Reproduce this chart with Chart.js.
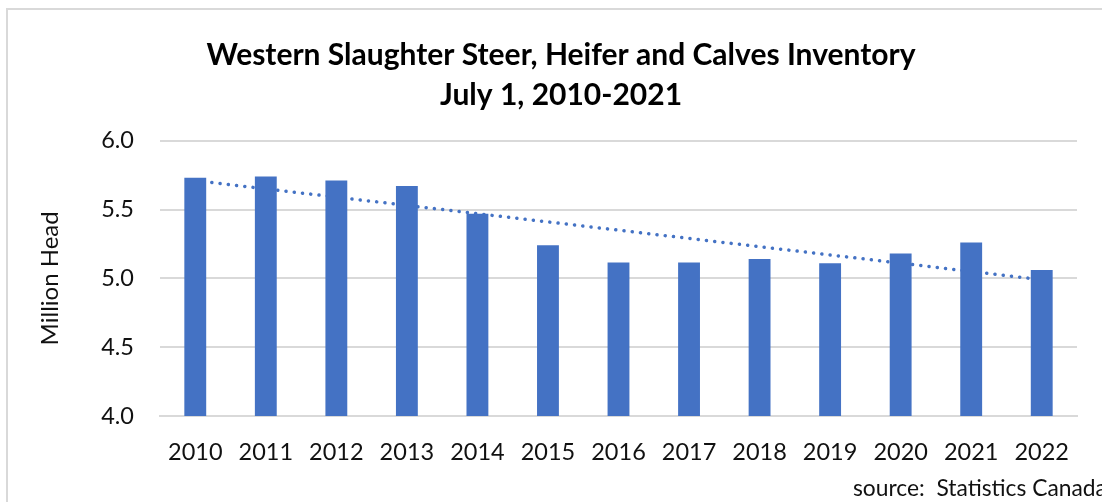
<!DOCTYPE html>
<html>
<head>
<meta charset="utf-8">
<script src="https://cdn.jsdelivr.net/npm/chart.js@4.4.0/dist/chart.umd.min.js"></script>
<style>
    html, body { margin: 0; padding: 0; background: #fff; overflow: hidden; width: 1102px; height: 502px; }
    .box {
        position: absolute; left: 6px; top: 8px; width: 1200px; height: 600px;
        border-left: 2px solid #d9d9d9; border-top: 2px solid #d9d9d9;
    }
    .wrap { position: absolute; left: 7px; top: 9px; }
    .source {
        position: absolute; left: 853px; top: 473px;
        font-family: Lato, sans-serif; font-size: 22.8px; color: #111; white-space: pre;
    }
</style>
</head>
<body>
<div class="box"></div>
<div class="wrap"><canvas id="myChart" width="1108" height="477"></canvas></div>
<div class="source">source:  Statistics Canada</div>
<script>
const years = ['2010', '2011', '2012', '2013', '2014', '2015', '2016', '2017', '2018', '2019', '2020', '2021', '2022'];
const inventory = [5.73, 5.74, 5.71, 5.67, 5.47, 5.24, 5.115, 5.115, 5.14, 5.11, 5.18, 5.26, 5.06];
// trend line ends, gaps joined with spanGaps
const trend = [5.71, null, null, null, null, null, null, null, null, null, null, null, 4.99];
const yTicks = [4.0, 4.5, 5.0, 5.5, 6.0];

const ctx = document.getElementById('myChart');
new Chart(ctx, {
    type: 'bar',
    data: {
        labels: years,
        datasets: [
            {
                type: 'bar',
                label: 'Inventory',
                data: inventory,
                backgroundColor: '#4472C4',
                barPercentage: 0.31,
                categoryPercentage: 1,
                order: 1
            },
            {
                type: 'line',
                label: 'Trend',
                data: trend,
                spanGaps: true,
                borderColor: '#4472C4',
                borderWidth: 3.5,
                borderDash: [0.1, 8.2],
                borderCapStyle: 'round',
                pointRadius: 0,
                fill: false,
                order: 2
            }
        ]
    },
    options: {
        responsive: false,
        animation: false,
        layout: {
            padding: 0
        },
        plugins: {
            legend: false,
            tooltip: { enabled: false },
            title: {
                display: true,
                text: ['Western Slaughter Steer, Heifer and Calves Inventory', 'July 1, 2010-2021'],
                color: '#000',
                font: { family: 'Lato', size: 30, weight: 'bold', lineHeight: '40px' },
                padding: { top: 26, bottom: 25.7 }
            }
        },
        scales: {
            x: {
                grid: { display: false },
                border: { color: '#d9d9d9', width: 2 },
                ticks: {
                    color: '#111',
                    font: { family: 'Lato', size: 23.5 },
                    padding: 14,
                    maxRotation: 0
                },
                afterFit: (scale) => { scale.height = 70; }
            },
            y: {
                min: 4,
                max: 6,
                afterBuildTicks: (scale) => { scale.ticks = yTicks.map(v => ({ value: v })); },
                grid: { color: '#d9d9d9', lineWidth: 2, drawTicks: false },
                border: { display: false },
                ticks: {
                    color: '#111',
                    font: { family: 'Lato', size: 23.5 },
                    padding: 26,
                    callback: (v) => Number(v).toFixed(1)
                },
                title: {
                    display: true,
                    text: 'Million Head',
                    color: '#111',
                    font: { family: 'Lato', size: 24 },
                    padding: { top: 28.5, bottom: 0 }
                },
                afterFit: (scale) => { scale.width = 153; }
            },
            // empty right axis, only keeps room on the right of the plot
            yRight: {
                position: 'right',
                min: 4,
                max: 6,
                grid: { display: false },
                border: { display: false },
                ticks: { display: false },
                afterFit: (scale) => { scale.width = 38; }
            }
        }
    }
});
</script>
</body>
</html>
